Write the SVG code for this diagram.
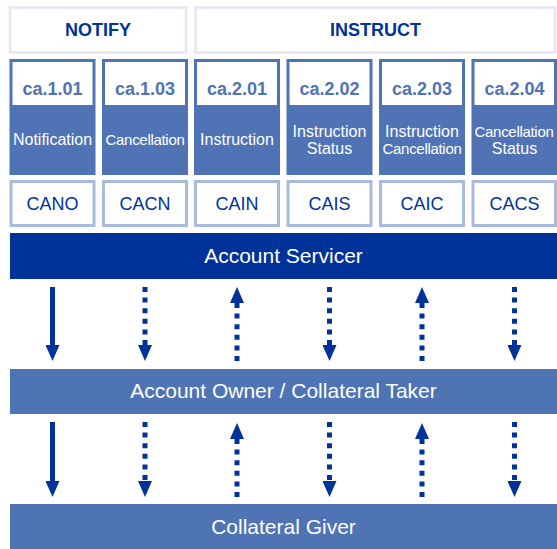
<svg xmlns="http://www.w3.org/2000/svg" width="557" height="549" viewBox="0 0 557 549">
<defs>
<style>
.hdr{fill:#fff;stroke:#e2e7f1;stroke-width:2.5}
.hdrt{font-family:"Liberation Sans",Arial,sans-serif;font-weight:bold;font-size:18px;fill:#003399;text-anchor:middle}
.col{fill:#4f73b4}
.top{fill:#fff}
.id{font-family:"Liberation Sans",Arial,sans-serif;font-weight:bold;font-size:18px;fill:#4f73b4;text-anchor:middle}
.nm{font-family:"Liberation Sans",Arial,sans-serif;font-size:16px;fill:#fff;text-anchor:middle}
.nmc{font-family:"Liberation Sans",Arial,sans-serif;font-size:15px;letter-spacing:-0.3px;fill:#fff;text-anchor:middle}
.code{fill:#fff;stroke:#a9bbdc;stroke-width:3}
.codet{font-family:"Liberation Sans",Arial,sans-serif;font-size:18px;fill:#003399;text-anchor:middle}
.bart{font-family:"Liberation Sans",Arial,sans-serif;font-size:21px;fill:#fff;text-anchor:middle}
.solid{stroke:#003399;stroke-width:5;fill:none;marker-end:url(#ah)}
.dot{stroke:#003399;stroke-width:5;fill:none;stroke-dasharray:5 5.6;marker-end:url(#ah)}
</style>
<marker id="ah" markerUnits="userSpaceOnUse" markerWidth="16" markerHeight="14" refX="0" refY="7" orient="auto" viewBox="0 0 16 14">
<path d="M0,0 L16,7 L0,14 z" fill="#003399"/>
</marker>
</defs>
<rect width="557" height="549" fill="#fff"/>

<g id="notify">
<rect class="hdr" x="10" y="7.5" width="176" height="45"/>
<text class="hdrt" x="98" y="36">NOTIFY</text>
</g>
<g id="instruct">
<rect class="hdr" x="195.5" y="7.5" width="359.5" height="45"/>
<text class="hdrt" x="375.5" y="36">INSTRUCT</text>
</g>

<g id="ca101">
<rect class="col" x="9.5" y="59" width="86" height="116"/>
<rect class="top" x="12.5" y="62" width="80" height="43"/>
<text class="id" x="52.5" y="95">ca.1.01</text>
<text class="nm" x="52.5" y="145">Notification</text>
</g>
<g id="ca103">
<rect class="col" x="102" y="59" width="86" height="116"/>
<rect class="top" x="105" y="62" width="80" height="43"/>
<text class="id" x="145" y="95">ca.1.03</text>
<text class="nmc" x="145" y="145">Cancellation</text>
</g>
<g id="ca201">
<rect class="col" x="194" y="59" width="86" height="116"/>
<rect class="top" x="197" y="62" width="80" height="43"/>
<text class="id" x="237" y="95">ca.2.01</text>
<text class="nm" x="237" y="145">Instruction</text>
</g>
<g id="ca202">
<rect class="col" x="286.5" y="59" width="86" height="116"/>
<rect class="top" x="289.5" y="62" width="80" height="43"/>
<text class="id" x="329.5" y="95">ca.2.02</text>
<text class="nm" x="329.5" y="137">Instruction</text>
<text class="nm" x="329.5" y="153.5">Status</text>
</g>
<g id="ca203">
<rect class="col" x="379" y="59" width="86" height="116"/>
<rect class="top" x="382" y="62" width="80" height="43"/>
<text class="id" x="422" y="95">ca.2.03</text>
<text class="nm" x="422" y="137">Instruction</text>
<text class="nmc" x="422" y="153.5">Cancellation</text>
</g>
<g id="ca204">
<rect class="col" x="471.5" y="59" width="85.5" height="116"/>
<rect class="top" x="474.5" y="62" width="79.5" height="43"/>
<text class="id" x="514.5" y="95">ca.2.04</text>
<text class="nmc" x="514" y="137">Cancellation</text>
<text class="nm" x="514.5" y="153.5">Status</text>
</g>

<g id="cano"><rect class="code" x="11" y="181.5" width="83" height="44"/><text class="codet" x="52.5" y="210">CANO</text></g>
<g id="cacn"><rect class="code" x="103.5" y="181.5" width="83" height="44"/><text class="codet" x="145" y="210">CACN</text></g>
<g id="cain"><rect class="code" x="195.5" y="181.5" width="83" height="44"/><text class="codet" x="237" y="210">CAIN</text></g>
<g id="cais"><rect class="code" x="288" y="181.5" width="83" height="44"/><text class="codet" x="329.5" y="210">CAIS</text></g>
<g id="caic"><rect class="code" x="380.5" y="181.5" width="83" height="44"/><text class="codet" x="422" y="210">CAIC</text></g>
<g id="cacs"><rect class="code" x="473" y="181.5" width="82.5" height="44"/><text class="codet" x="514.5" y="210">CACS</text></g>

<g id="servicer">
<rect x="10" y="233" width="547" height="46" fill="#003399"/>
<text class="bart" x="283.5" y="263">Account Servicer</text>
</g>
<g id="owner">
<rect x="10" y="369" width="547" height="45" fill="#4f74b4"/>
<text class="bart" x="283.5" y="398">Account Owner / Collateral Taker</text>
</g>
<g id="giver">
<rect x="10" y="504" width="547" height="45" fill="#4f74b4"/>
<text class="bart" x="283.5" y="534">Collateral Giver</text>
</g>

<g id="connectors">
<path class="solid" d="M52.5,287 V345"/>
<path class="dot" d="M145,287 V345"/>
<path class="dot" d="M237,361 V303"/>
<path class="dot" d="M329.5,287 V345"/>
<path class="dot" d="M422,361 V303"/>
<path class="dot" d="M514.5,287 V345"/>

<path class="solid" d="M52.5,422 V481"/>
<path class="dot" d="M145,422 V481"/>
<path class="dot" d="M237,497 V439"/>
<path class="dot" d="M329.5,422 V481"/>
<path class="dot" d="M422,497 V439"/>
<path class="dot" d="M514.5,422 V481"/>
</g>
</svg>
